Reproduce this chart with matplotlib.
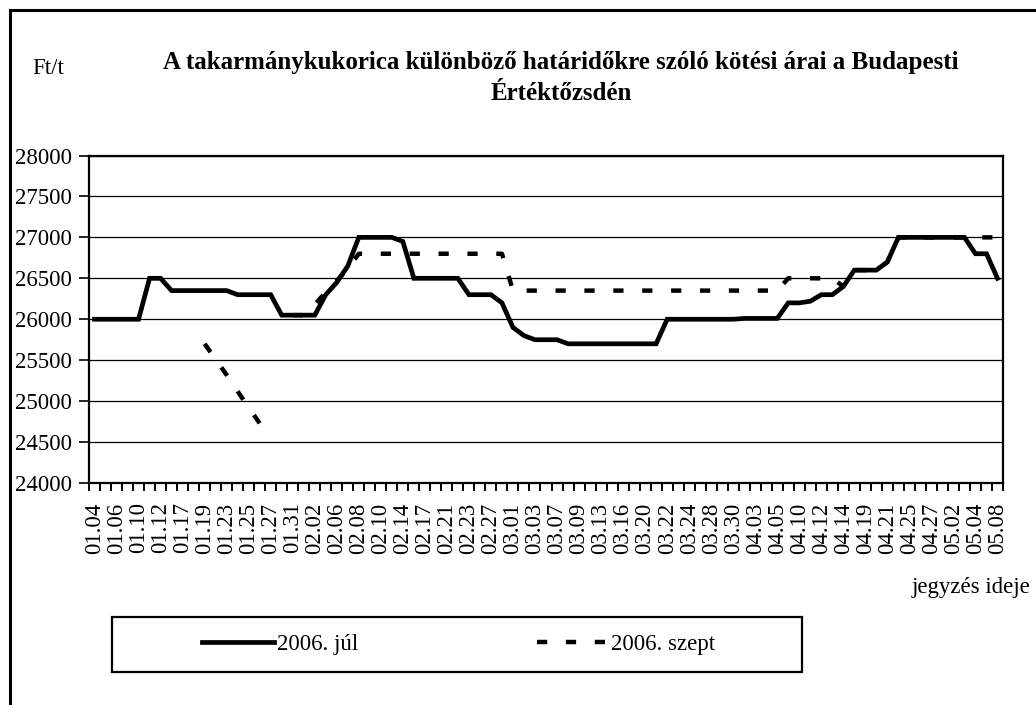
import numpy as np
import matplotlib
matplotlib.use('Agg')
import matplotlib.pyplot as plt
from matplotlib.lines import Line2D
from matplotlib.patches import Rectangle

plt.rcParams['font.family'] = ['Liberation Serif', 'DejaVu Serif']

# tick labels (every other trading day is labelled)
dates = ['01.04', '01.06', '01.10', '01.12', '01.17', '01.19', '01.23', '01.25', '01.27', '01.31',
         '02.02', '02.06', '02.08', '02.10', '02.14', '02.17', '02.21', '02.23', '02.27', '03.01',
         '03.03', '03.07', '03.09', '03.13', '03.16', '03.20', '03.22', '03.24', '03.28', '03.30',
         '04.03', '04.05', '04.10', '04.12', '04.14', '04.19', '04.21', '04.25', '04.27', '05.02',
         '05.04', '05.08']

# 2006. júl (Ft/t)
jul = [26000, 26000, 26000, 26000, 26000, 26500, 26500, 26350, 26350, 26350,
       26350, 26350, 26350, 26300, 26300, 26300, 26300, 26050, 26050, 26050,
       26050, 26300, 26450, 26650, 27000, 27000, 27000, 27000, 26950, 26500,
       26500, 26500, 26500, 26500, 26300, 26300, 26300, 26200, 25900, 25800,
       25750, 25750, 25750, 25700, 25700, 25700, 25700, 25700, 25700, 25700,
       25700, 25700, 26000, 26000, 26000, 26000, 26000, 26000, 26000, 26010,
       26010, 26010, 26010, 26200, 26200, 26220, 26300, 26300, 26400, 26600,
       26600, 26600, 26700, 27000, 27000, 27000, 27000, 27000, 27000, 27000,
       26800, 26800, 26500]

# 2006. szept (Ft/t), gaps where no quote
nan = np.nan
szept = [nan, nan, nan, nan, nan, nan, nan, nan, nan, nan,
         25700, 25510, 25320, 25120, 24920, 24730, nan, nan, 26050, 26050,
         26180, 26330, 26470, 26620, 26800, 26800, 26800, 26800, 26800, 26800,
         26800, 26800, 26800, 26800, 26800, 26800, 26800, 26800, 26350, 26350,
         26350, 26350, 26350, 26350, 26350, 26350, 26350, 26350, 26350, 26350,
         26350, 26350, 26350, 26350, 26350, 26350, 26350, 26350, 26350, 26350,
         26350, 26350, 26350, 26500, 26500, 26500, 26500, 26500, 26400, 26600,
         26600, 26600, 26700, 27000, 27000, 27000, 27000, 27000, 27000, 27000,
         27000, 27000, 27000]

x = np.arange(len(jul))
W, H = 1036, 705

fig = plt.figure(figsize=(W / 100, H / 100), dpi=100)
ax = fig.add_axes([89 / W, 1 - 483 / H, 914 / W, 327.5 / H])

ax.plot(x, szept, color='black', lw=3.2, dashes=(2.3, 4.2), dash_capstyle='butt', label='2006. szept')
ax.plot(x, jul, color='black', lw=3.4, solid_joinstyle='miter', label='2006. júl')

ax.set_xlim(-0.5, len(jul) - 0.5)
ax.set_ylim(24000, 28000)
ax.set_yticks(np.arange(24000, 28001, 500))
ax.yaxis.grid(True, color='black', lw=0.9)
ax.set_axisbelow(True)

ax.set_xticks(np.arange(0, len(jul), 2))
ax.set_xticklabels(dates, rotation=90)
ax.set_xticks(np.arange(-0.5, len(jul), 1), minor=True)
ax.tick_params(axis='x', which='major', length=0, pad=14, labelsize=16.5)
ax.tick_params(axis='x', which='minor', length=6, width=1.4, direction='out')
ax.tick_params(axis='y', length=7, width=1.2, pad=5, labelsize=16.5)
for s in ax.spines.values():
    s.set_linewidth(1.6)

# texts
fig.text(561 / W, 1 - 62 / H, 'A takarmánykukorica különböző határidőkre szóló kötési árai a Budapesti',
         ha='center', va='center', fontsize=18, fontweight='bold')
fig.text(561 / W, 1 - 93 / H, 'Értéktőzsdén', ha='center', va='center', fontsize=18, fontweight='bold')
fig.text(48 / W, 1 - 69 / H, 'Ft/t', ha='center', va='center', fontsize=16.5)
fig.text(1030 / W, 1 - 588 / H, 'jegyzés ideje', ha='right', va='center', fontsize=16.5)

# legend
handles = [Line2D([], [], color='black', lw=3.4),
           Line2D([], [], color='black', lw=3.2, dashes=(2.3, 4.2), dash_capstyle='butt')]
fig.legend(handles, ['2006. júl', '2006. szept'], ncol=2, frameon=False, loc='center',
           bbox_to_anchor=(459 / W, 1 - 644 / H), fontsize=16.5, handlelength=3.1,
           handletextpad=0.15, columnspacing=7.8)
fig.add_artist(Rectangle((112 / W, 1 - 672 / H), 690 / W, 55 / H, transform=fig.transFigure,
                         fill=False, edgecolor='black', lw=1.6))

# outer frame (left and top edges only)
fig.add_artist(Line2D([9.5 / W, 9.5 / W], [0, 1 - 10 / H], transform=fig.transFigure, color='black', lw=2.2))
fig.add_artist(Line2D([9.5 / W, 1], [1 - 10 / H, 1 - 10 / H], transform=fig.transFigure, color='black', lw=2.2))

fig.savefig('out.png', dpi=100)
